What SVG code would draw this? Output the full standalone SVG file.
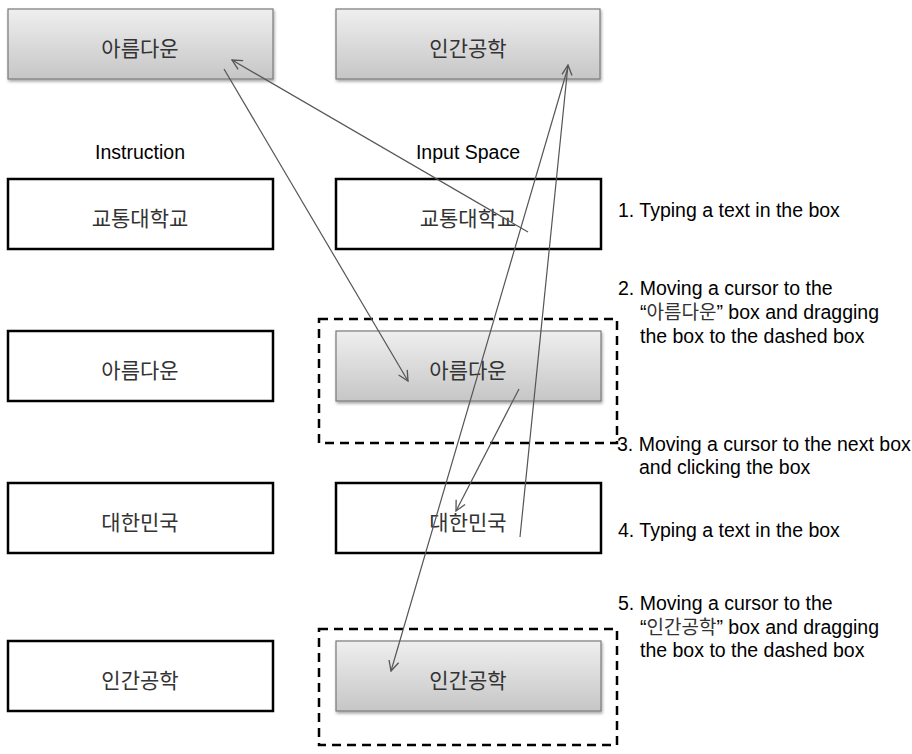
<svg xmlns="http://www.w3.org/2000/svg" width="912" height="754" viewBox="0 0 912 754">
<defs>
<linearGradient id="g" x1="0" y1="0" x2="0" y2="1">
<stop offset="0" stop-color="#efefef"/>
<stop offset="1" stop-color="#c6c6c6"/>
</linearGradient>
<filter id="sh" x="-5%" y="-10%" width="112%" height="130%">
<feDropShadow dx="1" dy="2" stdDeviation="1.5" flood-color="#000" flood-opacity="0.35"/>
</filter>
<marker id="ah" viewBox="0 0 12 12" refX="11" refY="6" markerWidth="12" markerHeight="12" markerUnits="userSpaceOnUse" orient="auto">
<path d="M1,1 L11,6 L1,11" fill="none" stroke="#555" stroke-width="1.3"/>
</marker>
<style>
.gb{fill:url(#g);stroke:#7a7a7a;stroke-width:1.2;filter:url(#sh)}
.wb{fill:#fff;stroke:#000;stroke-width:2.5}
.db{fill:none;stroke:#000;stroke-width:2.5;stroke-dasharray:9 6}
.k{font-family:"Noto Sans CJK KR","Noto Sans",sans-serif;font-size:21px;fill:#333;text-anchor:middle}
.e{font-family:"Liberation Sans",Arial,sans-serif;font-size:19.5px;fill:#000;text-anchor:middle}
.s{font-family:"Liberation Sans",Arial,"Noto Sans CJK KR",sans-serif;font-size:19.5px;fill:#000}
.sk{font-family:"Noto Sans CJK KR",sans-serif;font-size:19px;fill:#333}
.c{fill:none;stroke:#555;stroke-width:1.2;marker-end:url(#ah)}
</style>
</defs>
<g id="top-a"><rect class="gb" x="8" y="9" width="265" height="70"/><text class="k" x="140" y="56">아름다운</text></g>
<g id="top-b"><rect class="gb" x="336" y="9" width="264" height="70"/><text class="k" x="468" y="56">인간공학</text></g>
<g id="hdr-instr"><text class="e" x="140" y="159">Instruction</text></g>
<g id="hdr-input"><text class="e" x="468" y="159">Input Space</text></g>
<g id="inst1"><rect class="wb" x="8" y="179" width="265" height="70"/><text class="k" x="140" y="226">교통대학교</text></g>
<g id="inst2"><rect class="wb" x="8" y="331" width="265" height="70"/><text class="k" x="140" y="378">아름다운</text></g>
<g id="inst3"><rect class="wb" x="8" y="483" width="265" height="70"/><text class="k" x="140" y="530">대한민국</text></g>
<g id="inst4"><rect class="wb" x="8" y="641" width="265" height="70"/><text class="k" x="140" y="688">인간공학</text></g>
<g id="in1"><rect class="wb" x="336" y="179" width="265" height="70"/><text class="k" x="468" y="226">교통대학교</text></g>
<g id="drop1"><rect class="db" x="319" y="319" width="298" height="124"/></g>
<g id="in2"><rect class="gb" x="336" y="331" width="265" height="70"/><text class="k" x="468" y="378">아름다운</text></g>
<g id="in3"><rect class="wb" x="336" y="483" width="265" height="70"/><text class="k" x="468" y="530">대한민국</text></g>
<g id="drop2"><rect class="db" x="319" y="629" width="298" height="116"/></g>
<g id="in4"><rect class="gb" x="336" y="641" width="265" height="70"/><text class="k" x="468" y="688">인간공학</text></g>
<g id="connectors">
<line class="c" x1="528" y1="232" x2="232" y2="60"/>
<line class="c" x1="224" y1="69" x2="408" y2="381"/>
<line class="c" x1="519" y1="389" x2="456" y2="511"/>
<line class="c" x1="520" y1="537" x2="568" y2="65"/>
<line class="c" x1="568" y1="67" x2="391" y2="671"/>
</g>
<g id="steps">
<text class="s" x="618" y="217">1. Typing a text in the box</text>
<text class="s" x="618" y="295">2. Moving a cursor to the</text>
<text class="s" x="640" y="319">“<tspan class="sk">아름다운</tspan>” box and dragging</text>
<text class="s" x="640" y="343">the box to the dashed box</text>
<text class="s" x="617" y="451">3. Moving a cursor to the next box</text>
<text class="s" x="639" y="474">and clicking the box</text>
<text class="s" x="618" y="537">4. Typing a text in the box</text>
<text class="s" x="618" y="610">5. Moving a cursor to the</text>
<text class="s" x="640" y="634">“<tspan class="sk">인간공학</tspan>” box and dragging</text>
<text class="s" x="640" y="657">the box to the dashed box</text>
</g>
</svg>
